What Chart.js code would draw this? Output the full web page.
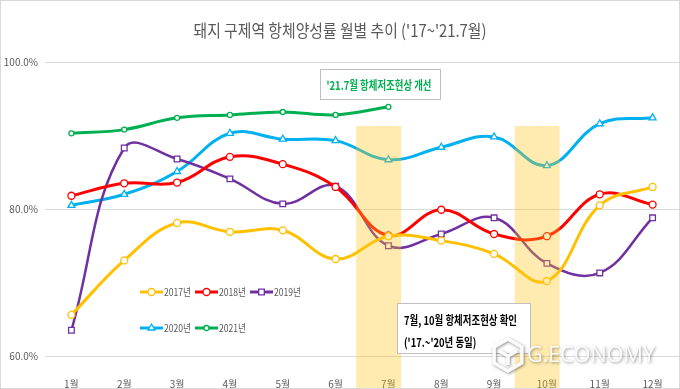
<!DOCTYPE html>
<html><head><meta charset="utf-8">
<script src="https://cdn.jsdelivr.net/npm/chart.js@4/dist/chart.umd.min.js"></script>
<style>html,body{margin:0;padding:0;background:#fff;}#wrap{width:680px;height:389px;position:relative;}</style>
</head><body><div id="wrap"><canvas id="c" width="680" height="389"></canvas></div>
<script>
const months = ['1월','2월','3월','4월','5월','6월','7월','8월','9월','10월','11월','12월'];
const y2017 = [65.6, 73.0, 78.1, 76.9, 77.1, 73.2, 76.3, 75.7, 73.9, 70.2, 80.5, 83.0];
const y2018 = [81.8, 83.5, 83.6, 87.1, 86.1, 83.0, 76.4, 79.9, 76.6, 76.3, 82.0, 80.6];
const y2019 = [63.5, 88.3, 86.8, 84.1, 80.7, 83.1, 75.0, 76.6, 78.8, 72.6, 71.3, 78.8];
const y2020 = [80.5, 82.0, 85.1, 90.3, 89.5, 89.3, 86.7, 88.4, 89.8, 85.9, 91.6, 92.4];
const y2021 = [90.3, 90.8, 92.4, 92.8, 93.2, 92.8, 93.9];
const seriesNames = ['2017년', '2018년', '2019년', '2020년', '2021년'];
const yTicks = [60, 80, 100];
const highlightMonths = ['7월', '10월'];
const highlightTop = 91.3;
const titleText = "돼지 구제역 항체양성률 월별 추이 ('17~'21.7월)";
const note1 = "'21.7월 항체저조현상 개선";
const note2 = ["7월, 10월 항체저조현상 확인", "('17.~'20년 동일)"];

const TICK_FONT = '"Liberation Sans Narrow", "Noto Sans CJK KR", sans-serif';
const KR_FONT = '"Noto Sans CJK KR", sans-serif';

function squeezeText(ctx, text, x, y, sx, align) {
  ctx.save();
  ctx.translate(x, y);
  ctx.scale(sx, 1);
  ctx.textAlign = align || 'left';
  ctx.fillText(text, 0, 0);
  ctx.restore();
}

const deco = {
  id: 'deco',
  beforeDraw(chart) {
    const ctx = chart.ctx;
    ctx.save();
    ctx.fillStyle = '#ffffff';
    ctx.fillRect(0, 0, chart.width, chart.height);
    ctx.restore();
  },
  afterDatasetsDraw(chart) {
    const { ctx, scales: { x, y } } = chart;
    const cw = x.getPixelForValue(1) - x.getPixelForValue(0);
    const top = y.getPixelForValue(highlightTop);
    ctx.save();
    ctx.fillStyle = 'rgba(255,196,20,0.34)';
    highlightMonths.forEach(m => {
      const cx = x.getPixelForValue(months.indexOf(m));
      ctx.fillRect(cx - 0.61 * cw, top, 0.85 * cw, chart.height - top);
    });
    ctx.restore();
  },
  afterDraw(chart) {
    const { ctx, chartArea } = chart;
    ctx.save();
    // title
    ctx.fillStyle = '#595959';
    ctx.font = '17px ' + KR_FONT;
    ctx.textBaseline = 'middle';
    let w = ctx.measureText(titleText).width;
    squeezeText(ctx, titleText, 340, 31, 293 / w, 'center');

    // note 1
    ctx.fillStyle = '#ffffff';
    ctx.strokeStyle = '#bfbfbf';
    ctx.lineWidth = 1;
    ctx.fillRect(320.5, 69.5, 120, 30);
    ctx.strokeRect(320.5, 69.5, 120, 30);
    ctx.fillStyle = '#00B050';
    ctx.font = 'bold 12px ' + KR_FONT;
    w = ctx.measureText(note1).width;
    squeezeText(ctx, note1, 379, 85, 105 / w, 'center');

    // note 2
    ctx.fillStyle = '#ffffff';
    ctx.fillRect(397.5, 303.5, 133, 50);
    ctx.strokeRect(397.5, 303.5, 133, 50);
    ctx.fillStyle = '#000000';
    ctx.font = 'bold 12px ' + KR_FONT;
    w = ctx.measureText(note2[0]).width;
    const s2 = 113 / w;
    squeezeText(ctx, note2[0], 404, 320, s2, 'left');
    squeezeText(ctx, note2[1], 404, 342, s2, 'left');

    // legend
    chart.data.datasets.forEach((ds, i) => {
      const row = i < 3 ? 0 : 1, col = i % 3;
      const x0 = chartArea.left + 95 + col * 55;
      const yy = chartArea.top + 230 + row * 36;
      ctx.strokeStyle = ds.borderColor;
      ctx.lineWidth = 3;
      ctx.beginPath(); ctx.moveTo(x0, yy); ctx.lineTo(x0 + 23, yy); ctx.stroke();
      ctx.fillStyle = '#ffffff';
      ctx.lineWidth = 1.3;
      Chart.helpers.drawPoint(ctx, { pointStyle: ds.pointStyle, radius: ds.pointRadius, borderWidth: 1.3, rotation: 0 }, x0 + 11.5, yy);
      ctx.fillStyle = '#595959';
      ctx.font = '10px ' + TICK_FONT;
      const tw = ctx.measureText(ds.label).width;
      squeezeText(ctx, ds.label, x0 + 24, yy, Math.min(1, 27 / tw), 'left');
    });

    // watermark
    ctx.save();
    ctx.shadowColor = 'rgba(0,0,0,0.45)';
    ctx.shadowBlur = 3;
    ctx.shadowOffsetX = 1; ctx.shadowOffsetY = 1;
    ctx.strokeStyle = 'rgba(255,255,255,0.95)';
    ctx.lineWidth = 3.5;
    const hx = 508, hy = 355, hr = 16;
    ctx.beginPath();
    for (let k = 0; k < 6; k++) {
      const a = Math.PI / 6 + k * Math.PI / 3;
      const px = hx + hr * Math.cos(a), py = hy + hr * Math.sin(a);
      if (k === 0) ctx.moveTo(px, py); else ctx.lineTo(px, py);
    }
    ctx.closePath(); ctx.stroke();
    ctx.beginPath();
    ctx.moveTo(hx - 9, hy - 4); ctx.lineTo(hx, hy + 1); ctx.lineTo(hx + 9, hy - 4);
    ctx.moveTo(hx, hy + 1); ctx.lineTo(hx, hy + 10);
    ctx.stroke();
    ctx.fillStyle = 'rgba(255,255,255,0.95)';
    ctx.font = '22px "Open Sans", sans-serif';
    const ww = ctx.measureText('G.ECONOMY').width;
    squeezeText(ctx, 'G.ECONOMY', 527, 356, 128 / ww, 'left');
    ctx.restore();

    // frame
    ctx.strokeStyle = '#d9d9d9';
    ctx.lineWidth = 1;
    ctx.strokeRect(0.5, 0.5, chart.width - 1, chart.height - 1);
    ctx.restore();
  }
};

function mk(label, data, color, style, radius, lw) {
  return {
    label, data,
    borderColor: color,
    backgroundColor: '#ffffff',
    pointBackgroundColor: '#ffffff',
    pointBorderColor: color,
    pointStyle: style,
    pointRadius: radius,
    pointBorderWidth: 1.3,
    borderWidth: lw,
    tension: 0.4,
    fill: false
  };
}

new Chart(document.getElementById('c'), {
  type: 'line',
  data: {
    labels: months,
    datasets: [
      mk(seriesNames[0], y2017, '#FFC000', 'circle', 3.5, 3),
      mk(seriesNames[1], y2018, '#FF0000', 'circle', 3.5, 3),
      mk(seriesNames[2], y2019, '#7030A0', 'rect', 4, 2.5),
      mk(seriesNames[3], y2020, '#00B0F0', 'triangle', 4, 3),
      mk(seriesNames[4], y2021, '#00B050', 'circle', 2.5, 3)
    ]
  },
  options: {
    responsive: false,
    devicePixelRatio: 1,
    animation: false,
    layout: { autoPadding: false, padding: { top: 62, left: 0, right: 1, bottom: 0 } },
    plugins: { legend: { display: false }, title: { display: false }, tooltip: { enabled: false } },
    scales: {
      x: {
        offset: true,
        grid: { display: false },
        border: { display: false },
        ticks: { color: '#595959', font: { family: TICK_FONT, size: 10 }, padding: 14, maxRotation: 0 },
        afterFit(s) { s.height = 33; s.paddingLeft = 0; s.paddingRight = 0; }
      },
      y: {
        min: 60, max: 100,
        afterBuildTicks(s) { s.ticks = yTicks.map(v => ({ value: v })); },
        grid: { color: '#d9d9d9', lineWidth: 1, drawTicks: false },
        border: { display: false },
        ticks: { color: '#595959', font: { family: TICK_FONT, size: 10 }, padding: 7, callback: v => v.toFixed(1) + '%' },
        afterFit(s) { s.width = 45; }
      }
    }
  },
  plugins: [deco]
});
</script>
</body></html>
